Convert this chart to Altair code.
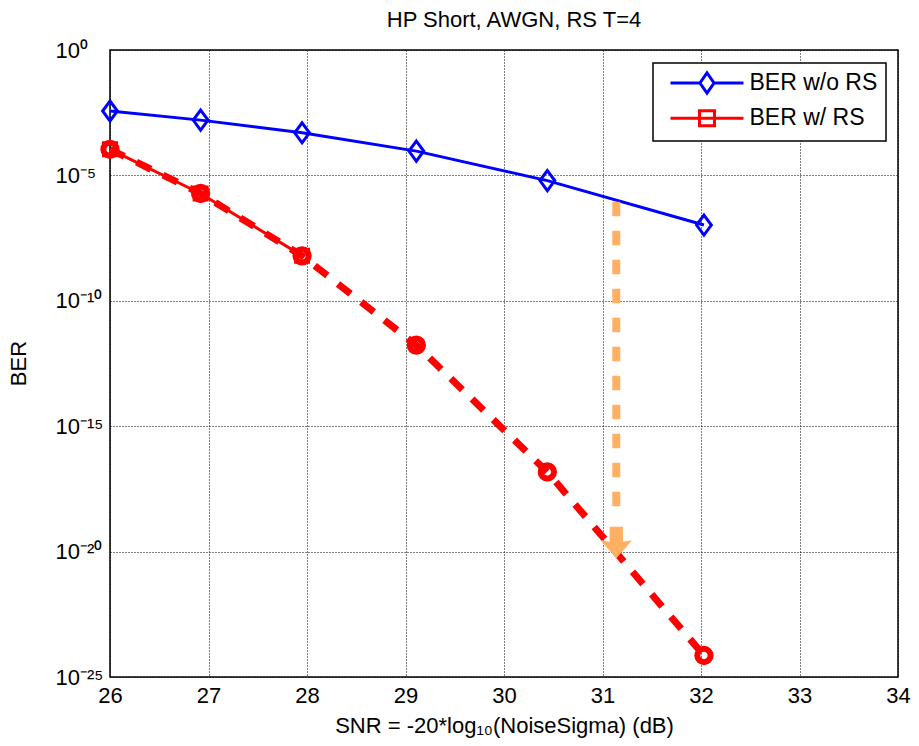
import altair as alt
import pandas as pd

# ---- data ----
snr = [26.0, 26.92, 27.95, 29.11, 30.44, 32.03]
ber_without_rs = [3.7e-3, 1.6e-3, 5.0e-4, 9.3e-5, 6.2e-6, 1.05e-7]
ber_with_rs = [1.1e-4, 1.9e-6, 6.2e-9, 1.7e-12, 1.5e-17, 7.2e-25]
n_solid_rs = 3  # the solid "w/ RS" trace covers the first three points
series_names = ["BER w/o RS", "BER w/ RS"]

x_ticks = [26, 27, 28, 29, 30, 31, 32, 33, 34]
y_ticks = [1, 1e-5, 1e-10, 1e-15, 1e-20, 1e-25]
y_tick_labels = ["10⁰", "10⁻⁵", "10⁻¹⁰", "10⁻¹⁵", "10⁻²⁰", "10⁻²⁵"]

arrow_x = [31.14]
arrow_top = [8.9e-7]
arrow_shaft_end = [1.7e-19]
arrow_head = [2.3e-20]

title_text = "HP Short, AWGN, RS T=4"
x_title = "SNR = -20*log₁₀(NoiseSigma) (dB)"
y_title = "BER"

# ---- tables ----
df_blue = pd.DataFrame({"snr": snr, "ber": ber_without_rs, "series": series_names[0]})
df_red = pd.DataFrame({"snr": snr, "ber": ber_with_rs, "series": series_names[1]})
df_red_solid = df_red.iloc[:n_solid_rs]
df_all = pd.concat([df_blue, df_red], ignore_index=True)
df_arrow = pd.DataFrame({"x": arrow_x, "top": arrow_top, "end": arrow_shaft_end, "head": arrow_head})

FONT = "Liberation Sans"
BLUE = "#0000FF"
RED = "#FF0000"
ORANGE = "#FFB062"

W, H = 788, 627

label_expr = "[" + ",".join("'" + s + "'" for s in y_tick_labels) + "][round(-log(datum.value)/LN10/5)]"

x_scale = alt.Scale(domain=[26, 34], nice=False, zero=False)
y_scale = alt.Scale(type="log", domain=[1e-25, 1], nice=False)

x_axis = alt.Axis(
    values=x_ticks, format="d", grid=True, gridColor="black", gridDash=[1, 2],
    gridWidth=1, gridOpacity=1, domain=False, ticks=False,
    labelFontSize=22, labelPadding=8, labelColor="black", labelFont=FONT, labelFlush=False,
    title=x_title, titleFontSize=22, titleFontWeight="normal", titleFont=FONT, titleColor="black",
    titleX=W / 2, titleY=55, titleBaseline="alphabetic", titleAlign="center",
)
y_axis = alt.Axis(
    values=y_ticks, labelExpr=label_expr, grid=True, gridColor="black", gridDash=[1, 2],
    gridWidth=1, gridOpacity=1, domain=False, ticks=False,
    labelFontSize=22, labelPadding=55, labelAlign="left", labelBaseline="middle",
    labelColor="black", labelFont=FONT, labelFlush=False,
    title=y_title, titleFontSize=22, titleFontWeight="normal", titleFont=FONT, titleColor="black",
    titleX=-92, titleY=313, titleAngle=270, titleBaseline="middle", titleAlign="center",
)

X = alt.X("snr:Q", scale=x_scale, axis=x_axis)
Y = alt.Y("ber:Q", scale=y_scale, axis=y_axis)

diamond = "M0,-1L0.74,0L0,1L-0.74,0Z"
legend_diamond = "M-4,0L-0.77,0M0.77,0L4,0M0,-1.1L0.77,0L0,1.1L-0.77,0Z"
legend_square = "M-4,0L4,0M-0.82,-0.82L0.82,-0.82L0.82,0.82L-0.82,0.82Z"
arrow_head_path = "M0,1L-1,-0.15L-0.42,-0.05L-0.42,-1L0.42,-1L0.42,-0.05L1,-0.15Z"

blue_line = alt.Chart(df_blue).mark_line(color=BLUE, strokeWidth=3).encode(x=X, y=Y)
blue_pts = alt.Chart(df_blue).mark_point(
    shape=diamond, size=400, filled=False, color=BLUE, strokeWidth=3, opacity=1
).encode(x=X, y=Y)

red_solid = alt.Chart(df_red_solid).mark_line(color=RED, strokeWidth=3).encode(x=X, y=Y)
red_squares = alt.Chart(df_red_solid).mark_point(
    shape="square", size=169, filled=False, color=RED, strokeWidth=3, opacity=1
).encode(x=X, y=Y)
red_dash = alt.Chart(df_red).mark_line(
    color=RED, strokeWidth=7, strokeDash=[16, 13.5], strokeCap="butt"
).encode(x=X, y=Y)
red_circles = alt.Chart(df_red).mark_point(
    shape="circle", size=177, filled=False, color=RED, strokeWidth=6, opacity=1
).encode(x=X, y=Y)

legend = alt.Legend(
    title=None, orient="none", legendX=543, legendY=13,
    strokeColor="black", fillColor="white",
    padding=8.5, rowPadding=5.2,
    labelFontSize=23, labelFont=FONT, labelColor="black", labelLimit=400,
    labelExpr="datum.label + '\u00a0\u00a0\u00a0\u00a0'",
    symbolSize=333, symbolStrokeWidth=3, symbolOffset=34, labelOffset=31,
    symbolOpacity=1,
)
legend_layer = alt.Chart(df_all).mark_point(opacity=0, filled=False, strokeWidth=3).encode(
    x=X, y=Y,
    color=alt.Color("series:N", scale=alt.Scale(domain=series_names, range=[BLUE, RED]), legend=legend),
    shape=alt.Shape("series:N", scale=alt.Scale(domain=series_names, range=[legend_diamond, legend_square]), legend=legend),
)

arrow_shaft = alt.Chart(df_arrow).mark_rule(
    color=ORANGE, strokeWidth=8, strokeDash=[14.5, 14.5], strokeCap="butt"
).encode(
    x=alt.X("x:Q", scale=x_scale, axis=x_axis),
    y=alt.Y("top:Q", scale=y_scale, axis=y_axis),
    y2="end:Q",
)
arrow_tip = alt.Chart(df_arrow).mark_point(
    shape=arrow_head_path, size=1000, filled=True, color=ORANGE, opacity=1, strokeWidth=0
).encode(
    x=alt.X("x:Q", scale=x_scale, axis=x_axis),
    y=alt.Y("head:Q", scale=y_scale, axis=y_axis),
)

chart = alt.layer(
    blue_line, blue_pts, red_solid, red_squares, red_dash, red_circles,
    legend_layer, arrow_shaft, arrow_tip,
).properties(
    width=W, height=H,
    title=alt.Title(title_text, fontSize=22, fontWeight="normal", font=FONT, color="black",
                    offset=7, frame="group", anchor="middle", dx=10),
    autosize=alt.AutoSizeParams(type="none"),
    padding={"left": 102, "top": 42, "right": 13, "bottom": 61},
).configure(
    font=FONT
).configure_view(
    stroke="black", strokeWidth=1.5
).configure_legend(
    strokeWidth=1.5
)

chart.save("out.html", embed_options={"renderer": "svg", "actions": False})
